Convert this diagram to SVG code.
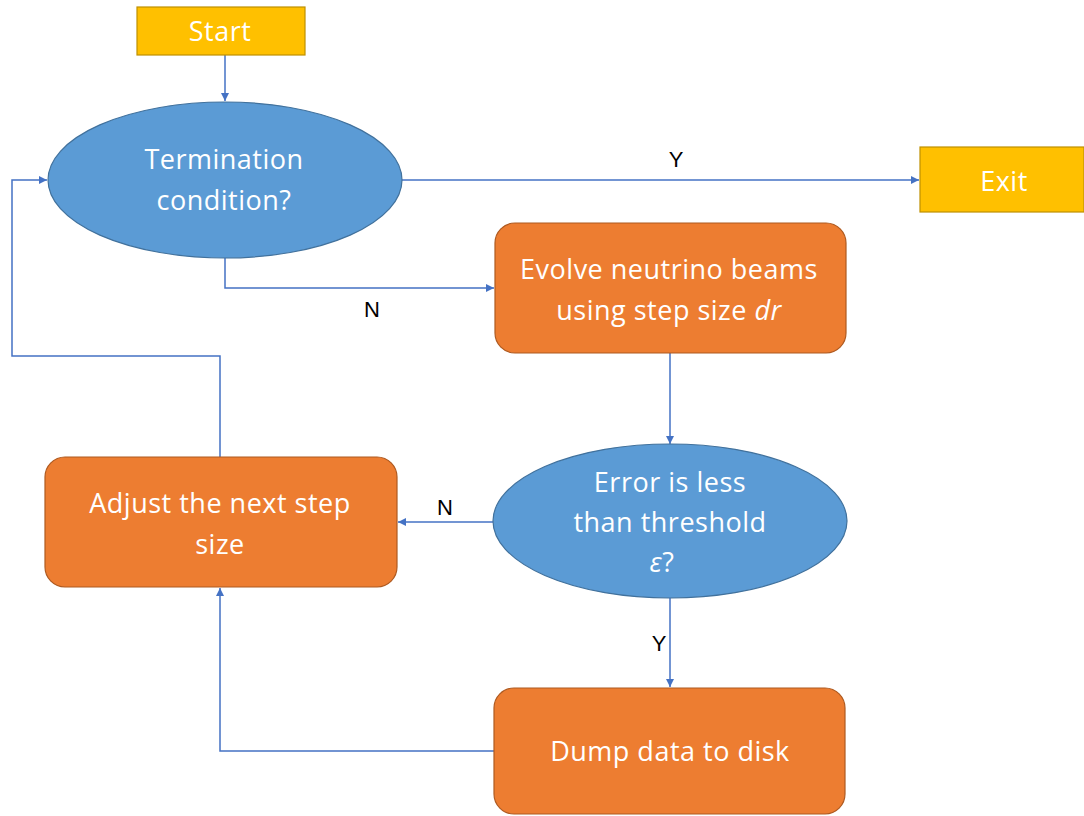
<svg xmlns="http://www.w3.org/2000/svg" width="1084" height="816" viewBox="0 0 1084 816">
  <style>
    .term { fill: #FFC000; stroke: #BF9000; stroke-width: 1.2; }
    .dec { fill: #5B9BD5; stroke: #41719C; stroke-width: 1.2; }
    .proc { fill: #ED7D31; stroke: #AE5A21; stroke-width: 1.2; }
    .lbl { font-family: "Open Sans", "Liberation Sans", sans-serif; font-size: 27px; letter-spacing: 0.5px; fill: #FFFFFF; text-anchor: middle; }
    .edge { font-family: "Liberation Sans", Arial, sans-serif; font-size: 22px; fill: #000000; text-anchor: middle; }
    .conn { fill: none; stroke: #4472C4; stroke-width: 1.5; }
  </style>
  <defs>
    <marker id="arrow" viewBox="0 0 10 10" refX="10" refY="5" markerWidth="8" markerHeight="8" markerUnits="userSpaceOnUse" orient="auto">
      <path d="M0,0 L10,5 L0,10 z" fill="#4472C4"/>
    </marker>
  </defs>

  <rect width="1084" height="816" fill="#FFFFFF"/>

  <!-- connectors -->
  <g id="connectors">
    <path class="conn" d="M225,55 V101" marker-end="url(#arrow)"/>
    <path class="conn" d="M402,180 H919" marker-end="url(#arrow)"/>
    <path class="conn" d="M225,258 V288 H494" marker-end="url(#arrow)"/>
    <path class="conn" d="M670,353 V444" marker-end="url(#arrow)"/>
    <path class="conn" d="M493,522 H398" marker-end="url(#arrow)"/>
    <path class="conn" d="M670,598 V687" marker-end="url(#arrow)"/>
    <path class="conn" d="M494,751 H220 V588" marker-end="url(#arrow)"/>
    <path class="conn" d="M220,457 V356 H12 V180 H47" marker-end="url(#arrow)"/>
    <text class="edge" x="676" y="167">Y</text>
    <text class="edge" x="372" y="317">N</text>
    <text class="edge" x="445" y="515">N</text>
    <text class="edge" x="659" y="651">Y</text>
  </g>

  <g id="start">
    <rect class="term" x="137" y="7" width="168" height="48"/>
    <text class="lbl" x="220" y="41">Start</text>
  </g>

  <g id="termination">
    <ellipse class="dec" cx="225" cy="180" rx="177" ry="78"/>
    <text class="lbl" x="224" y="169">Termination</text>
    <text class="lbl" x="224" y="210">condition?</text>
  </g>

  <g id="exit">
    <rect class="term" x="920" y="147" width="164" height="65"/>
    <text class="lbl" x="1004" y="191">Exit</text>
  </g>

  <g id="evolve">
    <rect class="proc" x="495" y="223" width="351" height="130" rx="20" ry="20"/>
    <text class="lbl" x="669" y="279">Evolve neutrino beams</text>
    <text class="lbl" x="669" y="320">using step size <tspan font-style="italic">dr</tspan></text>
  </g>

  <g id="error-check">
    <ellipse class="dec" cx="670" cy="521" rx="177" ry="77"/>
    <text class="lbl" x="670" y="492">Error is less</text>
    <text class="lbl" x="670" y="532">than threshold</text>
    <text class="lbl" x="662" y="572"><tspan font-style="italic">ε</tspan>?</text>
  </g>

  <g id="adjust">
    <rect class="proc" x="45" y="457" width="352" height="130" rx="20" ry="20"/>
    <text class="lbl" x="220" y="513">Adjust the next step</text>
    <text class="lbl" x="220" y="554">size</text>
  </g>

  <g id="dump">
    <rect class="proc" x="494" y="688" width="351" height="126" rx="20" ry="20"/>
    <text class="lbl" x="670" y="761">Dump data to disk</text>
  </g>
</svg>
